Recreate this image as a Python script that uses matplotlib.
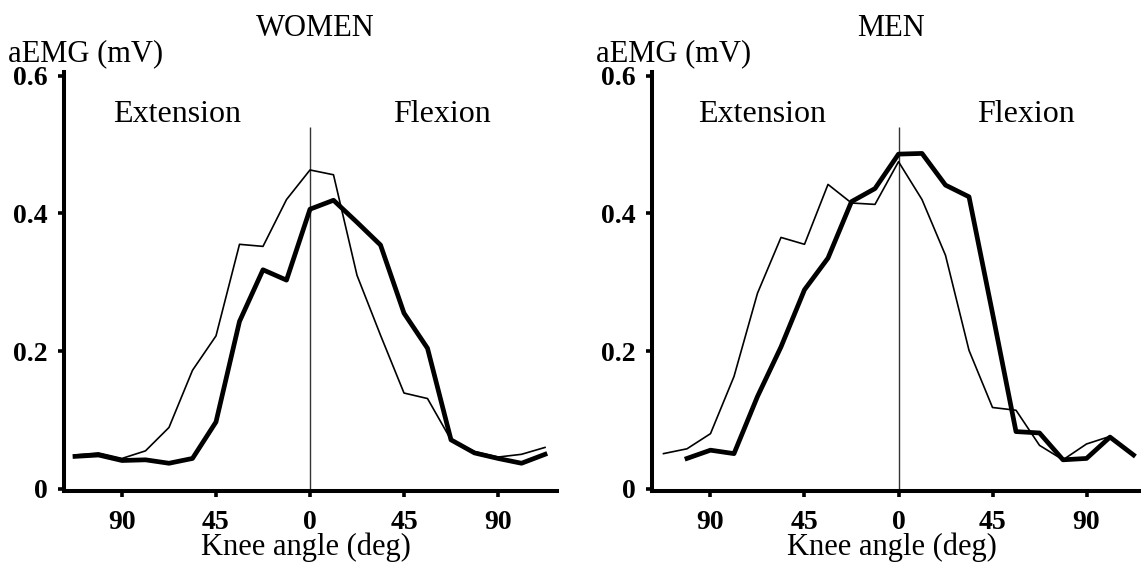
import matplotlib
matplotlib.use('Agg')
import matplotlib.pyplot as plt

plt.rcParams['font.family'] = ['Liberation Serif', 'DejaVu Serif']

# knee angle, extension negative / flexion positive (deg)
angles = [-112.5, -101.25, -90, -78.75, -67.5, -56.25, -45, -33.75, -22.5, -11.25,
          0, 11.25, 22.5, 33.75, 45, 56.25, 67.5, 78.75, 90, 101.25, 112.5]

women_thin = [0.049, 0.052, 0.044, 0.055, 0.089, 0.172, 0.222, 0.355, 0.352, 0.420,
              0.463, 0.456, 0.310, 0.223, 0.139, 0.131, 0.071, 0.054, 0.046, 0.050, 0.060]
women_thick = [0.047, 0.049, 0.041, 0.042, 0.037, 0.044, 0.097, 0.243, 0.318, 0.303,
               0.406, 0.419, 0.387, 0.354, 0.255, 0.204, 0.071, 0.052, 0.044, 0.037, 0.050]

men_thin = [0.051, 0.058, 0.080, 0.163, 0.284, 0.365, 0.355, 0.442, 0.415, 0.413,
            0.475, 0.420, 0.339, 0.201, 0.118, 0.114, 0.063, 0.042, 0.065, 0.076, 0.049]
men_thick_angles = angles[1:]
men_thick = [0.044, 0.056, 0.051, 0.134, 0.206, 0.289, 0.335, 0.417, 0.436,
             0.486, 0.487, 0.441, 0.424, 0.255, 0.083, 0.081, 0.042, 0.044, 0.075, 0.049]

xticks = [-90, -45, 0, 45, 90]
xticklabels = ['90', '45', '0', '45', '90']
yticks = [0, 0.2, 0.4, 0.6]
yticklabels = ['0', '0.2', '0.4', '0.6']

W, H = 1141, 563
fig = plt.figure(figsize=(W / 100, H / 100), dpi=100)


def px(x, y):
    return x / W, 1 - y / H


def setup(ax):
    ax.set_xlim(-118, 118)
    ax.set_ylim(-0.003, 0.606)
    for s in ['top', 'right']:
        ax.spines[s].set_visible(False)
    for s in ['left', 'bottom']:
        ax.spines[s].set_linewidth(2.9)
    ax.set_xticks(xticks)
    ax.set_xticklabels(xticklabels)
    ax.set_yticks(yticks)
    ax.set_yticklabels(yticklabels)
    ax.tick_params(axis='both', length=4.5, width=2.6, labelsize=20)
    ax.tick_params(axis='x', pad=9)
    ax.tick_params(axis='y', pad=7)
    for lab in ax.get_xticklabels() + ax.get_yticklabels():
        lab.set_fontweight('bold')
    ax.vlines(0, 0, 0.525, color='#333333', lw=1.0)


ax1 = fig.add_axes([63.5 / W, (H - 490.8) / H, 493 / W, 419.3 / H])
ax2 = fig.add_axes([652 / W, (H - 490.8) / H, 493 / W, 419.3 / H])
for ax in (ax1, ax2):
    setup(ax)

ax1.plot(angles, women_thin, color='black', lw=1.2)
ax1.plot(angles, women_thick, color='black', lw=3.4)
ax2.plot(angles, men_thin, color='black', lw=1.2)
ax2.plot(men_thick_angles, men_thick, color='black', lw=3.4)

fs = 22
fig.text(*px(315, 36), 'WOMEN', fontsize=fs, ha='center', va='baseline')
fig.text(*px(891, 36), 'MEN', fontsize=fs, ha='center', va='baseline')
fig.text(*px(8, 61), 'aEMG (mV)', fontsize=fs, ha='left', va='baseline')
fig.text(*px(596, 61), 'aEMG (mV)', fontsize=fs, ha='left', va='baseline')
fig.text(*px(113, 122), 'Extension', fontsize=23, ha='left', va='baseline')
fig.text(*px(698, 122), 'Extension', fontsize=23, ha='left', va='baseline')
fig.text(*px(393, 122), 'Flexion', fontsize=23, ha='left', va='baseline')
fig.text(*px(977, 122), 'Flexion', fontsize=23, ha='left', va='baseline')
fig.text(*px(306, 555), 'Knee angle (deg)', fontsize=fs, ha='center', va='baseline')
fig.text(*px(892, 555), 'Knee angle (deg)', fontsize=fs, ha='center', va='baseline')

fig.savefig('out.png', dpi=100)
